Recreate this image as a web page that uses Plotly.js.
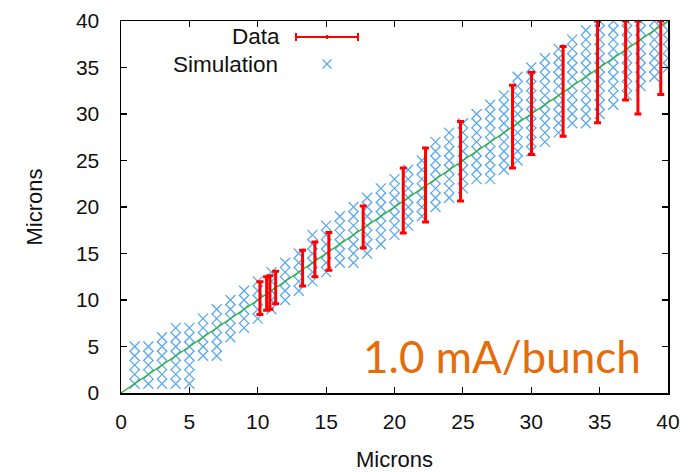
<!DOCTYPE html>
<html>
<head>
<meta charset="utf-8">
<script src="https://cdn.plot.ly/plotly-3.0.1.min.js"></script>
<style>html,body{margin:0;padding:0;background:#fff;}#chart{width:696px;height:472px;}</style>
</head>
<body>
<div id="chart"></div>
<script>
// Simulation grid: one column per integer x, crosses at each integer y from low to high
const simColumns = [1,2,3,4,5,6,7,8,9,10,11,12,13,14,15,16,17,18,19,20,21,22,23,24,25,26,27,28,29,30,31,32,33,34,35,36,37,38,39,40];
const simLow  = [1,1,1,1,1,4,4,6,7,8,9,10,11,12,13,14,14,15,16,17,18,19,20,21,22,23,23,24,25,26,27,28,29,29,30,31,32,33,34,35];
const simHigh = [5,5,6,7,7,8,9,10,11,12,13,14,15,17,18,19,20,21,22,23,24,25,27,28,29,30,31,32,34,35,36,37,38,39,40,40,40,40,40,40];

// Measured data with error bars
const dataX    = [10.16,10.65,10.89,11.31,13.28,14.18,15.2,17.71,20.64,22.27,24.83,28.63,30.02,32.33,34.85,36.9,37.8,39.47];
const dataLow  = [8.45,8.9,9.0,9.6,11.5,12.5,13.2,15.6,17.2,18.4,20.65,24.2,25.65,27.6,29.07,31.5,30.0,32.1];
const dataHigh = [11.95,12.5,12.6,13.1,15.36,16.25,17.26,20.1,24.2,26.35,29.2,33.1,34.5,37.27,40,40,40,40];

// Reference line y = x
const lineX = [0, 40];
const lineY = [0, 40];

const xTicks = [0,5,10,15,20,25,30,35,40];
const yTicks = [0,5,10,15,20,25,30,35,40];

const simX = [], simY = [];
simColumns.forEach((c, i) => {
  for (let v = simLow[i]; v <= simHigh[i]; v++) { simX.push(c); simY.push(v); }
});

const dataMid = dataX.map((_, i) => (dataLow[i] + dataHigh[i]) / 2);
const errPlus = dataX.map((_, i) => dataHigh[i] - dataMid[i]);
const errMinus = dataX.map((_, i) => dataMid[i] - dataLow[i]);

const simColor = '#5aa9ee';

const traces = [
  {
    x: simX, y: simY, type: 'scatter', mode: 'markers', name: 'Simulation',
    marker: {symbol: 'x-thin', size: 10, line: {color: simColor, width: 1.3}, color: simColor},
    hoverinfo: 'skip', cliponaxis: true
  },
  {
    x: lineX, y: lineY, type: 'scatter', mode: 'lines', name: 'line',
    line: {color: '#28b028', width: 1.3}, hoverinfo: 'skip'
  },
  {
    x: dataX, y: dataMid, type: 'scatter', mode: 'markers', name: 'Data',
    marker: {color: '#ff0000', size: 2},
    error_y: {type: 'data', symmetric: false, array: errPlus, arrayminus: errMinus,
              color: '#ff0000', thickness: 3, width: 3.5},
    hoverinfo: 'skip', cliponaxis: true
  }
];

const W = 547, H = 372; // plot area size in px for legend decoration
const px = v => v / W, py = v => v / H;
const legY1 = 1 - py(16), legY2 = 1 - py(43);
const legX0 = px(175), legX1 = px(237), legXc = px(206);

const font = {family: 'Liberation Sans, Arial, sans-serif', color: '#111'};

const layout = {
  width: 696, height: 472,
  margin: {l: 121, r: 28, t: 21, b: 79},
  paper_bgcolor: '#fff', plot_bgcolor: '#fff',
  showlegend: false,
  font: font,
  xaxis: {
    range: [0, 40], tickvals: xTicks, ticktext: xTicks.map(String),
    ticks: 'inside', ticklen: 6, tickwidth: 1.2, tickcolor: '#000',
    showline: true, linecolor: '#000', linewidth: 1.5, mirror: 'ticks',
    showgrid: false, zeroline: false, ticklabelstandoff: 9,
    tickfont: {family: font.family, size: 21, color: '#111'},
    title: {text: 'Microns', font: {family: font.family, size: 22, color: '#111'}, standoff: 22}
  },
  yaxis: {
    range: [0, 40], tickvals: yTicks, ticktext: yTicks.map(String),
    ticks: 'inside', ticklen: 6, tickwidth: 1.2, tickcolor: '#000',
    showline: true, linecolor: '#000', linewidth: 1.5, mirror: 'ticks',
    showgrid: false, zeroline: false, ticklabelstandoff: 16,
    tickfont: {family: font.family, size: 21, color: '#111'},
    title: {text: 'Microns', font: {family: font.family, size: 22, color: '#111'}, standoff: 27}
  },
  annotations: [
    {text: 'Data', xref: 'paper', yref: 'paper', x: px(161), y: legY1, xanchor: 'right', yanchor: 'middle',
     showarrow: false, font: {family: font.family, size: 22.5, color: '#111'}},
    {text: 'Simulation', xref: 'paper', yref: 'paper', x: px(159), y: legY2, xanchor: 'right', yanchor: 'middle',
     showarrow: false, font: {family: font.family, size: 22.5, color: '#111'}},
    {text: '1.0 mA/bunch', xref: 'paper', yref: 'paper', x: px(381), y: py(37), xanchor: 'center', yanchor: 'middle',
     showarrow: false, font: {family: 'Lato, sans-serif', size: 44, color: '#e46c0a'}}
  ],
  shapes: [
    {type: 'line', xref: 'paper', yref: 'paper', x0: legX0, x1: legX1, y0: legY1, y1: legY1, line: {color: '#ff0000', width: 2}},
    {type: 'line', xref: 'paper', yref: 'paper', x0: legX0, x1: legX0, y0: legY1 - py(4), y1: legY1 + py(4), line: {color: '#ff0000', width: 2}},
    {type: 'line', xref: 'paper', yref: 'paper', x0: legX1, x1: legX1, y0: legY1 - py(4), y1: legY1 + py(4), line: {color: '#ff0000', width: 2}},
    {type: 'circle', xref: 'paper', yref: 'paper', x0: legXc - px(1.5), x1: legXc + px(1.5), y0: legY1 - py(1.5), y1: legY1 + py(1.5), fillcolor: '#ff0000', line: {color: '#ff0000', width: 1}},
    {type: 'line', xref: 'paper', yref: 'paper', x0: legXc - px(4.5), x1: legXc + px(4.5), y0: legY2 - py(4.5), y1: legY2 + py(4.5), line: {color: simColor, width: 1.3}},
    {type: 'line', xref: 'paper', yref: 'paper', x0: legXc - px(4.5), x1: legXc + px(4.5), y0: legY2 + py(4.5), y1: legY2 - py(4.5), line: {color: simColor, width: 1.3}}
  ]
};

Plotly.newPlot('chart', traces, layout, {staticPlot: true, displayModeBar: false});
</script>
</body>
</html>
